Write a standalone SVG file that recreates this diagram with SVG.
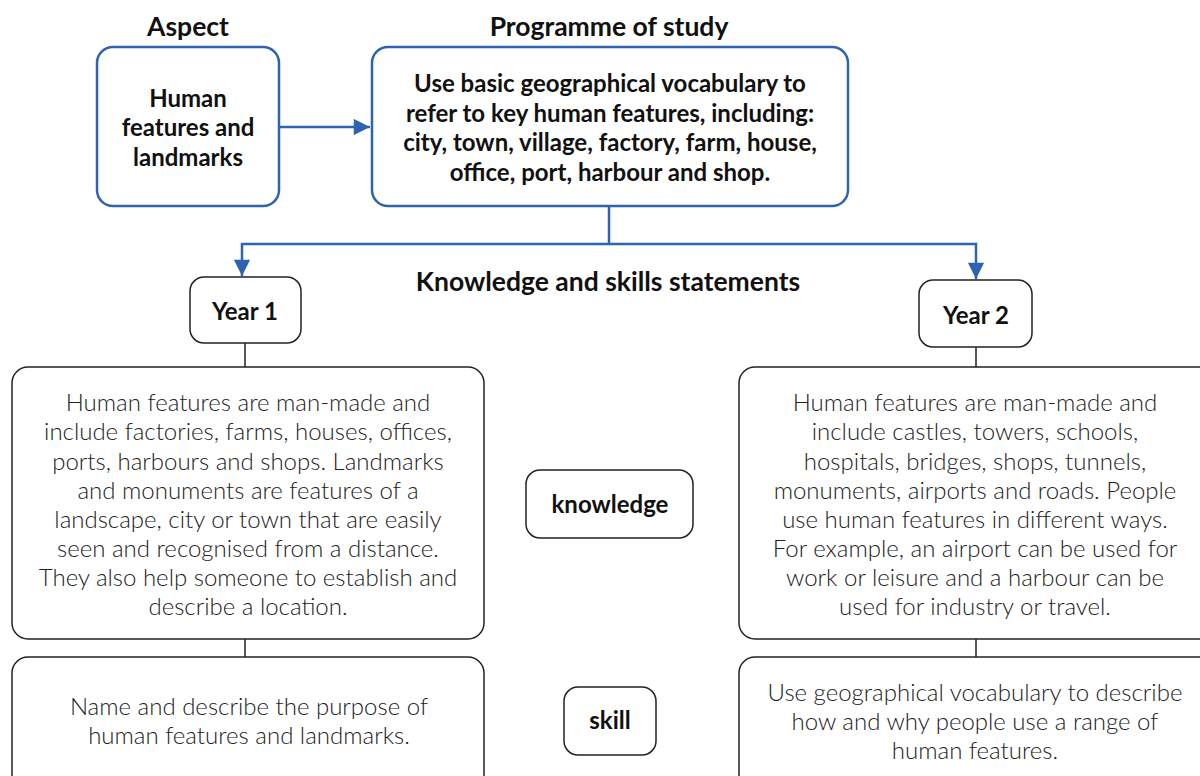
<svg xmlns="http://www.w3.org/2000/svg" width="1200" height="776" viewBox="0 0 1200 776">
<defs>
<style>
.hdr{font-family:Lato,"Liberation Sans",sans-serif;font-weight:700;font-size:26.5px;fill:#111;text-anchor:middle}
.bt{font-family:Lato,"Liberation Sans",sans-serif;font-weight:700;font-size:24px;fill:#111;text-anchor:middle}
.lt{font-family:Lato,"Liberation Sans",sans-serif;font-weight:300;font-size:24px;fill:#222;text-anchor:middle}
.blue{fill:#fff;stroke:#2E63B0;stroke-width:2.5}
.blk{fill:#fff;stroke:#222;stroke-width:1.5}
.conn{fill:none;stroke:#2E63B0;stroke-width:2.5}
.thin{fill:none;stroke:#222;stroke-width:1.5}
</style>
<marker id="ah" viewBox="0 0 10 10" refX="10" refY="5" markerWidth="8" markerHeight="6.5" orient="auto" markerUnits="strokeWidth">
<path d="M0,0 L10,5 L0,10 z" fill="#2E63B0"/>
</marker>
</defs>
<rect width="1200" height="776" fill="#fff"/>
<g id="headings">
<text class="hdr" x="188" y="36">Aspect</text>
<text class="hdr" x="609" y="36">Programme of study</text>
<text class="hdr" x="608" y="291">Knowledge and skills statements</text>
</g>
<g id="connectors">
<line class="conn" x1="279" y1="127" x2="370" y2="127" marker-end="url(#ah)"/>
<path class="conn" d="M609,206 V244 H242 V276" marker-end="url(#ah)"/>
<path class="conn" d="M609,244 H976 V279" marker-end="url(#ah)"/>
<line class="thin" x1="245" y1="343" x2="245" y2="367"/>
<line class="thin" x1="976" y1="347" x2="976" y2="367"/>
<line class="thin" x1="245" y1="639" x2="245" y2="657"/>
<line class="thin" x1="976" y1="639" x2="976" y2="657"/>
</g>
<g id="aspect">
<rect class="blue" x="97" y="47" width="182" height="159" rx="16"/>
<text class="bt" x="188" y="107">Human</text>
<text class="bt" x="188" y="136">features and</text>
<text class="bt" x="188" y="166">landmarks</text>
</g>
<g id="programme">
<rect class="blue" x="372" y="47" width="476" height="159" rx="16"/>
<text class="bt" x="610" y="92">Use basic geographical vocabulary to</text>
<text class="bt" x="610" y="122">refer to key human features, including:</text>
<text class="bt" x="610" y="151">city, town, village, factory, farm, house,</text>
<text class="bt" x="610" y="181">office, port, harbour and shop.</text>
</g>
<g id="year1">
<rect class="blk" x="190" y="277" width="111" height="66" rx="14"/>
<text class="bt" x="245" y="320">Year 1</text>
</g>
<g id="year2">
<rect class="blk" x="919" y="280" width="113" height="67" rx="14"/>
<text class="bt" x="976" y="324">Year 2</text>
</g>
<g id="year1-knowledge">
<rect class="blk" x="12" y="367" width="472" height="272" rx="16"/>
<text class="lt" x="248" y="411">Human features are man-made and</text>
<text class="lt" x="248" y="440">include factories, farms, houses, offices,</text>
<text class="lt" x="248" y="470">ports, harbours and shops. Landmarks</text>
<text class="lt" x="248" y="499">and monuments are features of a</text>
<text class="lt" x="248" y="528">landscape, city or town that are easily</text>
<text class="lt" x="248" y="557">seen and recognised from a distance.</text>
<text class="lt" x="248" y="586">They also help someone to establish and</text>
<text class="lt" x="248" y="615">describe a location.</text>
</g>
<g id="knowledge">
<rect class="blk" x="526" y="470" width="167" height="68" rx="14"/>
<text class="bt" x="610" y="513">knowledge</text>
</g>
<g id="year2-knowledge">
<rect class="blk" x="739" y="367" width="475" height="272" rx="16"/>
<text class="lt" x="975" y="411">Human features are man-made and</text>
<text class="lt" x="975" y="440">include castles, towers, schools,</text>
<text class="lt" x="975" y="470">hospitals, bridges, shops, tunnels,</text>
<text class="lt" x="975" y="499">monuments, airports and roads. People</text>
<text class="lt" x="975" y="528">use human features in different ways.</text>
<text class="lt" x="975" y="557">For example, an airport can be used for</text>
<text class="lt" x="975" y="586">work or leisure and a harbour can be</text>
<text class="lt" x="975" y="615">used for industry or travel.</text>
</g>
<g id="year1-skill">
<rect class="blk" x="12" y="657" width="472" height="140" rx="16"/>
<text class="lt" x="249" y="715">Name and describe the purpose of</text>
<text class="lt" x="249" y="744">human features and landmarks.</text>
</g>
<g id="skill">
<rect class="blk" x="564" y="687" width="92" height="68" rx="14"/>
<text class="bt" x="610" y="729">skill</text>
</g>
<g id="year2-skill">
<rect class="blk" x="739" y="657" width="475" height="140" rx="16"/>
<text class="lt" x="975" y="701">Use geographical vocabulary to describe</text>
<text class="lt" x="975" y="730">how and why people use a range of</text>
<text class="lt" x="975" y="759">human features.</text>
</g>
</svg>
